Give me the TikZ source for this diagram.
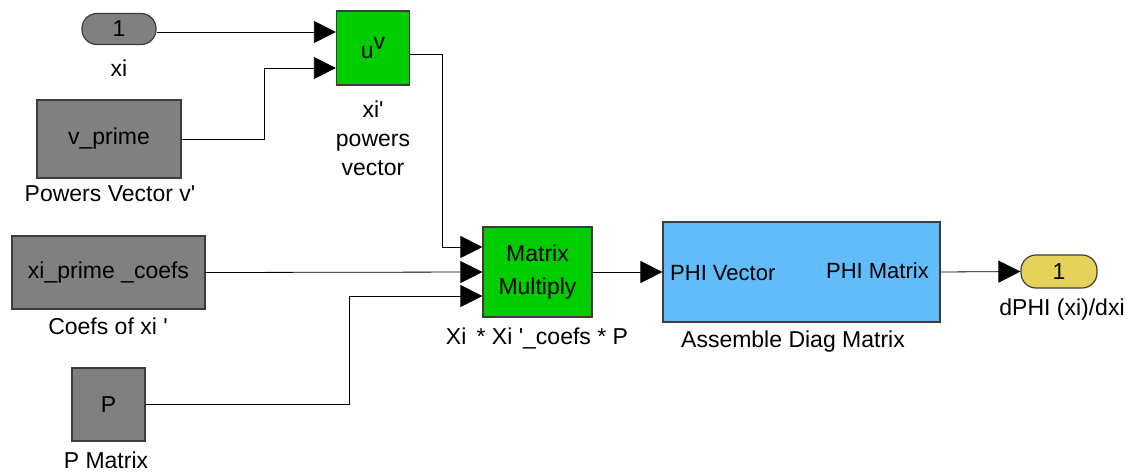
\documentclass[tikz,border=0pt]{standalone}
\usepackage{fontspec}
\setmainfont{Liberation Sans}
\usetikzlibrary{arrows.meta,calc}
\definecolor{blkgray}{RGB}{128,128,128}
\definecolor{blkgreen}{RGB}{0,204,0}
\definecolor{blkblue}{RGB}{98,188,250}
\definecolor{blkyellow}{RGB}{230,210,90}
\definecolor{edgegray}{RGB}{60,60,60}
\tikzset{
  blk/.style={draw=edgegray, line width=1.2pt, inner sep=0pt, font=\fontsize{23}{26}\selectfont},
  pill/.style={blk, rounded corners=15pt},
  lbl/.style={inner sep=0pt, font=\fontsize{23}{29}\selectfont, align=center},
  wire/.style={line width=0.8pt, draw=black},
  arr/.style={wire, -{Triangle[length=22pt,width=22pt]}},
}
\newcommand{\sq}{\textquotesingle}
\begin{document}
\begin{tikzpicture}[x=1pt,y=-1pt]
\useasboundingbox (0,0) rectangle (1131,472);
% blocks
\node[pill, fill=blkgray, minimum width=74pt, minimum height=31pt] (xi) at (119,29) {1};
\node[blk, fill=blkgreen, minimum width=73pt, minimum height=74pt] (uv) at (373,48) {u\raisebox{9pt}{v}};
\node[blk, fill=blkgray, minimum width=144pt, minimum height=78pt] (vp) at (109,139) {v\_prime};
\node[blk, fill=blkgray, minimum width=193pt, minimum height=73pt] (coefs) at (108.5,272.5) {xi\_prime \_coefs};
\node[blk, fill=blkgray, minimum width=73pt, minimum height=73pt] (P) at (108.5,404.5) {P};
\node[blk, fill=blkgreen, minimum width=109pt, minimum height=90pt, align=center,
      font=\fontsize{23}{33}\selectfont] (mm) at (537.5,272) {Matrix\\Multiply};
\node[blk, fill=blkblue, minimum width=277pt, minimum height=100pt] (phi) at (801.5,272) {};
\node[anchor=west, inner sep=0pt, font=\fontsize{22}{24}\selectfont] (phiin) at (670,273) {PHI Vector};
\node[anchor=east, inner sep=0pt, font=\fontsize{22}{24}\selectfont] (phiout) at (929,271) {PHI Matrix};
\node[pill, fill=blkyellow, minimum width=76pt, minimum height=33pt] (out) at (1059,271.5) {1};
% labels
\node[lbl] (lxi) at (119,68) {xi};
\node[lbl] (lvp) at (110,194) {Powers Vector v\sq};
\node[lbl] (lcoefs) at (108,326) {Coefs of xi \sq};
\node[lbl] (lP) at (106,460) {P Matrix};
\node[lbl] (luv) at (373,138) {xi\sq\\powers\\vector};
\node[lbl] (lmm) at (537,338) {Xi\, * Xi \sq\_coefs * P};
\node[lbl] (lphi) at (793,342) {Assemble Diag Matrix};
\node[lbl] (lout) at (1062,310) {dPHI (xi)/dxi};
% connectors
\coordinate (uvin1) at ($(uv.west)+(0,-16)$);
\coordinate (uvin2) at ($(uv.west)+(0,20)$);
\coordinate (uvout) at ($(uv.east)+(0,6)$);
\coordinate (mmin1) at ($(mm.west)+(0,-25)$);
\coordinate (mmin3) at ($(mm.west)+(0,24)$);
\draw[arr] (xi.east |- uvin1) -- (uvin1);
\draw[arr] (vp.east) -- (264,139) |- (uvin2);
\draw[arr] (uvout) -- (442,54) |- (mmin1);
\draw[arr] (coefs.east) -- (mm.west);
\draw[arr] (P.east) -- (349,404.5) |- (mmin3);
\draw[arr] (mm.east) -- (phi.west);
\draw[arr] (phi.east) -- (out.west);
\end{tikzpicture}
\end{document}
